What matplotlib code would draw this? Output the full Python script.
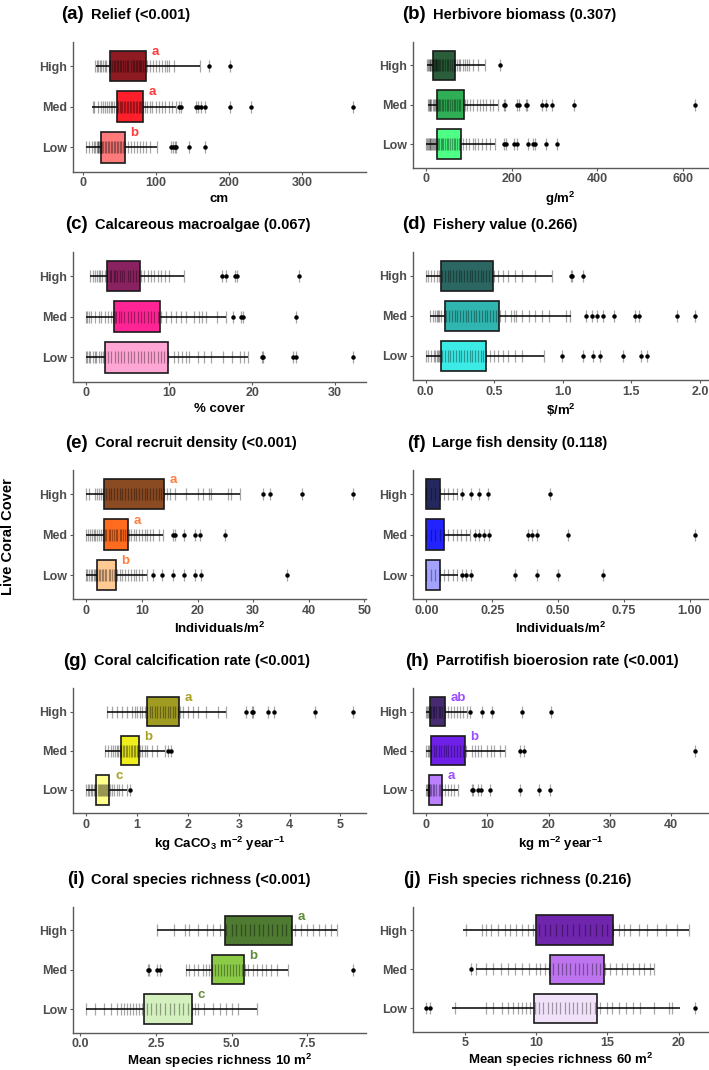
import matplotlib
matplotlib.use("Agg")
import matplotlib.pyplot as plt
from matplotlib.ticker import FormatStrFormatter

plt.rcParams['font.family'] = ['Liberation Sans', 'DejaVu Sans']
plt.rcParams['mathtext.fontset'] = 'custom'
plt.rcParams['mathtext.rm'] = 'Liberation Sans:bold'
plt.rcParams['mathtext.bf'] = 'Liberation Sans:bold'
plt.rcParams['mathtext.it'] = 'Liberation Sans:bold'
plt.rcParams['mathtext.default'] = 'bf'

W, H = 709, 1070
GROUPS = ['Low', 'Med', 'High']

# ---------------- data (order: Low, Med, High) ----------------
# (a) Relief
A_Q1 = [25, 46.4, 36.4]
A_Q3 = [57.3, 81.8, 86.4]
A_LO = [4.5, 12.7, 17.3]
A_HI = [101, 127, 160]
A_OUT = [[120, 123, 126, 127, 144.5, 167],
         [132, 134, 154, 158, 162, 167, 201, 229.5, 369],
         [172, 201]]
A_RUG = [[4.5, 8, 12, 15, 17, 19, 20, 21, 22, 23, 24, 25, 26, 28, 30, 32, 34, 36, 38, 40, 42, 44, 46, 48, 50, 52, 55, 58, 62, 66, 70, 74, 78, 82, 86, 92, 101],
         [13, 15, 20, 24, 27, 30, 33, 36, 38, 40, 43, 46, 48, 50, 52, 54, 56, 58, 60, 62, 64, 66, 68, 70, 72, 74, 76, 78, 80, 82, 85, 88, 92, 95, 100, 104, 108, 112, 118, 122, 127],
         [17, 19, 21, 23, 25, 28, 30, 32, 35, 37, 40, 42, 44, 46, 48, 50, 52, 55, 57, 60, 62, 65, 68, 70, 72, 74, 76, 78, 80, 82, 85, 88, 92, 96, 100, 104, 108, 112, 115, 118, 125, 160]]
A_LET = ['b', 'a', 'a']

# (b) Herbivore biomass
B_Q1 = [25, 25, 17]
B_Q3 = [82, 88, 66.4]
B_LO = [0.5, 4, 2]
B_HI = [160, 168, 137]
B_OUT = [[182, 186, 205, 211, 238, 250, 254, 280, 306],
         [181, 185, 212.5, 217, 232, 236, 270, 281, 294.5, 346, 627],
         [172]]
B_RUG = [[0.5, 2, 4, 6, 8, 10, 12, 14, 16, 18, 20, 22, 25, 28, 31, 34, 37, 40, 44, 48, 52, 56, 60, 64, 68, 72, 76, 80, 85, 92, 100, 110, 115, 122, 130, 140, 148, 160],
         [4, 6, 8, 10, 12, 15, 18, 20, 22, 25, 28, 30, 33, 36, 40, 44, 48, 52, 56, 60, 64, 68, 72, 76, 80, 85, 90, 96, 102, 110, 118, 125, 132, 140, 148, 155, 168],
         [2, 4, 6, 8, 10, 12, 14, 16, 18, 20, 22, 24, 26, 28, 30, 33, 36, 40, 44, 48, 52, 56, 60, 64, 68, 72, 76, 80, 85, 90, 95, 100, 110, 120, 137]]

# (c) Calcareous macroalgae
C_Q1 = [2.3, 3.3, 2.5]
C_Q3 = [9.85, 8.9, 6.5]
C_LO = [0, 0, 0.4]
C_HI = [19.5, 16.8, 11.8]
C_OUT = [[21.2, 21.3, 24.9, 25.3, 32.1],
         [17.7, 18.7, 18.9, 25.3],
         [16.4, 16.8, 17.9, 18.1, 25.6]]
C_RUG = [[0, 0.1, 0.3, 0.5, 0.8, 1.0, 1.2, 1.5, 1.8, 2.0, 2.3, 2.6, 3.0, 3.4, 3.8, 4.2, 4.5, 5.0, 5.4, 5.8, 6.2, 6.6, 7.0, 7.4, 7.8, 8.2, 8.6, 9.0, 9.4, 9.8, 10.6, 11.0, 11.5, 12.0, 12.4, 13.5, 14.2, 15.0, 16.5, 17.5, 18.5, 19.0, 19.5],
         [0, 0.1, 0.3, 0.6, 1.0, 1.5, 1.8, 2.2, 2.6, 3.0, 3.2, 3.4, 3.6, 3.9, 4.2, 4.6, 5.0, 5.4, 5.8, 6.2, 6.6, 7.0, 7.4, 7.8, 8.2, 8.6, 9.0, 9.6, 10.2, 10.8, 11.4, 12.0, 13.0, 13.6, 14.0, 14.4, 15.8, 16.8],
         [0.4, 0.8, 1.1, 1.3, 1.5, 1.7, 1.9, 2.2, 2.5, 2.8, 3.0, 3.3, 3.5, 3.7, 4.0, 4.3, 4.6, 5.0, 5.3, 5.6, 6.0, 6.3, 6.6, 7.0, 7.4, 7.8, 8.2, 8.6, 9.0, 9.5, 10.0, 11.8]]

# (d) Fishery value
D_Q1 = [0.115, 0.14, 0.115]
D_Q3 = [0.442, 0.533, 0.49]
D_LO = [0.005, 0.03, 0.005]
D_HI = [0.86, 1.057, 0.92]
D_OUT = [[0.995, 1.147, 1.216, 1.27, 1.44, 1.57, 1.614],
         [1.17, 1.21, 1.245, 1.295, 1.373, 1.528, 1.553, 1.83, 1.96],
         [1.056, 1.066, 1.147]]
D_RUG = [[0.005, 0.02, 0.04, 0.06, 0.07, 0.08, 0.09, 0.1, 0.11, 0.12, 0.14, 0.16, 0.18, 0.2, 0.22, 0.24, 0.26, 0.28, 0.3, 0.32, 0.34, 0.36, 0.38, 0.4, 0.42, 0.44, 0.47, 0.5, 0.53, 0.56, 0.6, 0.65, 0.7, 0.86],
         [0.03, 0.05, 0.07, 0.08, 0.09, 0.1, 0.11, 0.13, 0.15, 0.17, 0.19, 0.21, 0.23, 0.25, 0.27, 0.29, 0.31, 0.33, 0.35, 0.37, 0.39, 0.41, 0.43, 0.45, 0.47, 0.49, 0.51, 0.54, 0.58, 0.62, 0.64, 0.66, 0.7, 0.75, 0.8, 0.85, 0.9, 1.02, 1.05],
         [0.005, 0.02, 0.04, 0.06, 0.08, 0.1, 0.12, 0.14, 0.16, 0.18, 0.2, 0.22, 0.24, 0.26, 0.28, 0.3, 0.32, 0.34, 0.36, 0.38, 0.4, 0.42, 0.44, 0.46, 0.48, 0.5, 0.53, 0.56, 0.6, 0.65, 0.7, 0.8, 0.92]]

# (e) Coral recruit density
E_Q1 = [2.0, 3.1, 3.2]
E_Q3 = [5.3, 7.5, 13.9]
E_LO = [0, 0, 0]
E_HI = [10.95, 13.8, 27.6]
E_OUT = [[12.0, 13.6, 15.6, 17.6, 19.6, 20.7, 36.1],
         [15.6, 15.9, 17.6, 19.6, 20.4, 24.9],
         [31.8, 33.0, 38.8, 47.9]]
E_RUG = [[0, 0.2, 0.5, 0.8, 1.0, 1.3, 1.6, 1.8, 2.0, 2.2, 2.5, 2.8, 3.0, 3.3, 3.6, 4.0, 4.3, 4.6, 5.0, 5.3, 5.6, 6.0, 6.5, 7.0, 7.5, 8.0, 8.5, 9.0, 9.5, 10.0, 10.95],
         [0, 0.3, 0.6, 1.0, 1.3, 1.6, 2.0, 2.3, 2.6, 3.0, 3.3, 3.6, 4.0, 4.3, 4.6, 5.0, 5.3, 5.6, 6.0, 6.3, 6.6, 7.0, 7.3, 7.6, 8.0, 8.5, 9.0, 9.5, 10.0, 10.5, 11.0, 11.5, 12.0, 13.0, 13.8],
         [0, 0.5, 1.5, 2.0, 2.3, 2.6, 3.0, 3.5, 4.0, 4.5, 5.0, 5.5, 6.0, 6.5, 7.0, 7.5, 8.0, 8.5, 9.0, 9.5, 10.0, 10.5, 11.0, 11.5, 12.0, 12.5, 13.0, 13.5, 14.0, 14.5, 15.0, 16.0, 18.0, 20.0, 21.0, 22.0, 22.5, 25.5, 26.0, 27.6]]
E_LET = ['b', 'a', 'a']

# (f) Large fish density
F_Q1 = [0, 0, 0]
F_Q3 = [0.053, 0.068, 0.053]
F_LO = [0, 0, 0]
F_HI = [0.119, 0.167, 0.12]
F_OUT = [[0.135, 0.152, 0.17, 0.335, 0.42, 0.5, 0.67],
         [0.183, 0.2, 0.22, 0.237, 0.385, 0.4, 0.42, 0.537, 1.019],
         [0.135, 0.17, 0.2, 0.234, 0.468]]
F_RUG = [[0, 0.017, 0.033, 0.05, 0.067, 0.083, 0.1, 0.117],
         [0, 0.017, 0.033, 0.05, 0.067, 0.083, 0.1, 0.117, 0.133, 0.15, 0.167],
         [0, 0.017, 0.033, 0.05, 0.067, 0.083, 0.1, 0.117]]

# (g) Coral calcification rate
G_Q1 = [0.19, 0.68, 1.19]
G_Q3 = [0.456, 1.03, 1.82]
G_LO = [0, 0.37, 0.40]
G_HI = [0.8, 1.545, 2.75]
G_OUT = [[0.86],
         [1.61, 1.67],
         [3.14, 3.25, 3.28, 3.57, 3.7, 4.5, 5.24]]
G_RUG = [[0.0, 0.03, 0.06, 0.09, 0.12, 0.15, 0.18, 0.2, 0.22, 0.24, 0.26, 0.28, 0.3, 0.32, 0.34, 0.36, 0.38, 0.4, 0.43, 0.46, 0.5, 0.55, 0.6, 0.65, 0.7, 0.8],
         [0.37, 0.42, 0.48, 0.52, 0.56, 0.6, 0.63, 0.66, 0.69, 0.72, 0.75, 0.78, 0.81, 0.84, 0.87, 0.9, 0.93, 0.96, 0.99, 1.02, 1.05, 1.1, 1.15, 1.2, 1.3, 1.4, 1.545],
         [0.4, 0.5, 0.6, 0.7, 0.8, 0.9, 0.95, 1.0, 1.05, 1.1, 1.15, 1.2, 1.25, 1.3, 1.35, 1.4, 1.45, 1.5, 1.55, 1.6, 1.65, 1.7, 1.75, 1.8, 1.85, 1.9, 2.0, 2.1, 2.2, 2.35, 2.6, 2.75]]
G_LET = ['c', 'b', 'a']

# (h) Parrotfish bioerosion rate
H_Q1 = [0.38, 0.8, 0.55]
H_Q3 = [2.6, 6.27, 3.0]
H_LO = [0, 0, 0]
H_HI = [5.2, 12.9, 6.65]
H_OUT = [[7.4, 7.7, 8.4, 8.9, 10.4, 15.3, 18.4, 20.3],
         [15.4, 16.0, 43.9],
         [7.2, 9.1, 10.7, 15.6, 20.4]]
H_RUG = [[0, 0.1, 0.2, 0.3, 0.4, 0.5, 0.6, 0.8, 1.0, 1.3, 1.6, 2.0, 2.3, 2.6, 3.0, 3.5, 4.0, 4.5, 5.2],
         [0, 0.2, 0.5, 0.8, 1.2, 1.6, 2.0, 2.4, 2.8, 3.2, 3.6, 4.0, 4.5, 5.0, 5.5, 6.0, 6.5, 7.5, 8.0, 8.5, 9.0, 10.0, 10.5, 11.0, 12.0, 12.9],
         [0, 0.1, 0.2, 0.4, 0.6, 0.8, 1.0, 1.3, 1.6, 2.0, 2.3, 2.6, 3.0, 3.5, 4.0, 4.5, 5.0, 5.5, 6.0, 6.65]]
H_LET = ['a', 'b', 'ab']

# (i) Coral species richness
I_Q1 = [2.1, 4.35, 4.78]
I_Q3 = [3.69, 5.4, 7.01]
I_LO = [0.2, 3.5, 2.52]
I_HI = [5.84, 6.85, 8.49]
I_OUT = [[], [2.25, 2.27, 2.52, 2.65, 9.0], []]
I_RUG = [[0.2, 0.5, 0.8, 1.0, 1.2, 1.35, 1.45, 1.55, 1.65, 1.75, 1.85, 1.95, 2.05, 2.2, 2.35, 2.5, 2.65, 2.8, 2.95, 3.1, 3.25, 3.4, 3.55, 3.7, 3.8, 3.9, 4.1, 4.4, 4.6, 4.8, 5.0, 5.2, 5.84],
         [3.5, 3.6, 3.75, 3.9, 4.05, 4.15, 4.25, 4.35, 4.45, 4.55, 4.65, 4.75, 4.85, 4.95, 5.05, 5.15, 5.25, 5.35, 5.45, 5.55, 5.7, 5.85, 6.0, 6.15, 6.3, 6.5, 6.85],
         [2.52, 3.1, 3.45, 3.6, 3.9, 4.2, 4.4, 4.6, 4.8, 5.0, 5.15, 5.3, 5.45, 5.6, 5.75, 5.9, 6.05, 6.2, 6.35, 6.5, 6.65, 6.8, 6.95, 7.1, 7.3, 7.5, 7.7, 7.9, 8.1, 8.3, 8.49]]
I_LET = ['c', 'b', 'a']

# (j) Fish species richness
J_Q1 = [9.87, 10.98, 10.0]
J_Q3 = [14.26, 14.73, 15.36]
J_LO = [4.13, 5.8, 4.9]
J_HI = [20.07, 18.3, 20.75]
J_OUT = [[2.3, 2.54, 21.12], [5.45], []]
J_RUG = [[4.3, 6.5, 7.0, 7.6, 8.0, 8.4, 8.7, 9.0, 9.3, 9.6, 9.9, 10.2, 10.5, 10.8, 11.1, 11.4, 11.7, 12.0, 12.3, 12.6, 12.9, 13.2, 13.5, 13.8, 14.1, 14.5, 15.0, 15.3, 15.8, 16.3, 16.8, 17.3, 18.3, 19.3, 19.5],
         [5.8, 6.5, 7.0, 7.5, 8.0, 8.5, 9.0, 9.5, 10.0, 10.3, 10.6, 10.9, 11.2, 11.5, 11.8, 12.1, 12.4, 12.7, 13.0, 13.3, 13.6, 13.9, 14.2, 14.5, 14.8, 15.2, 15.6, 16.0, 16.4, 16.8, 17.2, 17.6, 18.0, 18.3],
         [5.1, 6.2, 6.5, 6.8, 7.3, 7.8, 8.2, 8.6, 9.0, 9.4, 9.8, 10.2, 10.6, 11.0, 11.4, 11.8, 12.2, 12.6, 13.0, 13.4, 13.8, 14.2, 14.6, 15.0, 15.4, 15.8, 16.2, 16.6, 17.2, 17.8, 18.5, 19.1, 19.9, 20.75]]

# ---------------- panel configuration ----------------
panels = [
    dict(tag='(a)', title='Relief (<0.001)', xlabel='cm',
         q1=A_Q1, q3=A_Q3, lo=A_LO, hi=A_HI, out=A_OUT, rug=A_RUG, let=A_LET, lcol='#FF3B3B',
         cols=['#FF7A7A', '#FF1F2A', '#8E1B22'], ticks=[0, 100, 200, 300], fmt='%d',
         box=(73, 41.7, 366, 171.7), tagx=61, lpad=3),
    dict(tag='(b)', title='Herbivore biomass (0.307)', xlabel='g/m$^2$',
         q1=B_Q1, q3=B_Q3, lo=B_LO, hi=B_HI, out=B_OUT, rug=B_RUG, let=None, lcol=None,
         cols=['#4DFF85', '#2FAE55', '#2A5E3A'], ticks=[0, 200, 400, 600], fmt='%d',
         box=(413, 41.7, 708, 167.7), tagx=402, lpad=3),
    dict(tag='(c)', title='Calcareous macroalgae (0.067)', xlabel='% cover',
         q1=C_Q1, q3=C_Q3, lo=C_LO, hi=C_HI, out=C_OUT, rug=C_RUG, let=None, lcol=None,
         cols=['#FFA6D5', '#FF2496', '#8A2160'], ticks=[0, 10, 20, 30], fmt='%d',
         box=(73, 251.7, 366, 381.7), tagx=65, lpad=3),
    dict(tag='(d)', title='Fishery value (0.266)', xlabel=r'\$/m$^2$',
         q1=D_Q1, q3=D_Q3, lo=D_LO, hi=D_HI, out=D_OUT, rug=D_RUG, let=None, lcol=None,
         cols=['#3DEBE6', '#30B5B0', '#2B6662'], ticks=[0, 0.5, 1.0, 1.5, 2.0], fmt='%.1f',
         box=(413, 251.7, 708, 380), tagx=402, lpad=3),
    dict(tag='(e)', title='Coral recruit density (<0.001)', xlabel='Individuals/m$^2$',
         q1=E_Q1, q3=E_Q3, lo=E_LO, hi=E_HI, out=E_OUT, rug=E_RUG, let=E_LET, lcol='#FF7F3F',
         cols=['#FFC994', '#FF6B1F', '#8A4A22'], ticks=[0, 10, 20, 30, 40, 50], fmt='%d',
         box=(73, 470, 366, 599.3), tagx=65, lpad=3),
    dict(tag='(f)', title='Large fish density (0.118)', xlabel='Individuals/m$^2$',
         q1=F_Q1, q3=F_Q3, lo=F_LO, hi=F_HI, out=F_OUT, rug=F_RUG, let=None, lcol=None,
         cols=['#A3A3FF', '#2323FF', '#24285E'], ticks=[0, 0.25, 0.5, 0.75, 1.0], fmt='%.2f',
         box=(413, 470, 708, 599.3), tagx=406.7, lpad=3),
    dict(tag='(g)', title='Coral calcification rate (<0.001)', xlabel='kg CaCO$_3$ m$^{-2}$ year$^{-1}$',
         q1=G_Q1, q3=G_Q3, lo=G_LO, hi=G_HI, out=G_OUT, rug=G_RUG, let=G_LET, lcol='#A8A020',
         cols=['#FFFF8C', '#EEEE1E', '#A09C22'], ticks=[0, 1, 2, 3, 4, 5], fmt='%d',
         box=(73, 688.3, 366, 813.3), tagx=63, lpad=3),
    dict(tag='(h)', title='Parrotifish bioerosion rate (<0.001)', xlabel='kg m$^{-2}$ year$^{-1}$',
         q1=H_Q1, q3=H_Q3, lo=H_LO, hi=H_HI, out=H_OUT, rug=H_RUG, let=H_LET, lcol='#9B4DFF',
         cols=['#BC80FF', '#6E1FE8', '#462A72'], ticks=[0, 10, 20, 30, 40], fmt='%d',
         box=(413, 688.3, 708, 813.3), tagx=405, lpad=3),
    dict(tag='(i)', title='Coral species richness (<0.001)', xlabel='Mean species richness 10 m$^2$',
         q1=I_Q1, q3=I_Q3, lo=I_LO, hi=I_HI, out=I_OUT, rug=I_RUG, let=I_LET, lcol='#5E8C38',
         cols=['#D4F0BF', '#8CCB48', '#4E7A31'], ticks=[0, 2.5, 5.0, 7.5], fmt='%.1f',
         box=(73, 906.7, 366, 1032.7), tagx=66.7, lpad=1.2),
    dict(tag='(j)', title='Fish species richness (0.216)', xlabel='Mean species richness 60 m$^2$',
         q1=J_Q1, q3=J_Q3, lo=J_LO, hi=J_HI, out=J_OUT, rug=J_RUG, let=None, lcol=None,
         cols=['#F1E2FA', '#BE74EE', '#7025AD'], ticks=[5, 10, 15, 20], fmt='%d',
         box=(413, 906.7, 708, 1031.7), tagx=403, lpad=1.2),
]

AXC = '#5A5A5A'
TXC = '#4D4D4D'

fig = plt.figure(figsize=(W / 100, H / 100), dpi=100)
renderer = fig.canvas.get_renderer()

for p in panels:
    x0, y0, x1, y1 = p['box']
    ax = fig.add_axes([x0 / W, 1 - y1 / H, (x1 - x0) / W, (y1 - y0) / H])
    allv = []
    for g in range(3):
        yv = g + 1
        allv += list(p['rug'][g]) + list(p['out'][g]) + [p['lo'][g], p['hi'][g]]
        ax.hlines(yv, p['lo'][g], p['hi'][g], color='black', lw=1.1, zorder=2)
        ax.barh(yv, p['q3'][g] - p['q1'][g], left=p['q1'][g], height=0.75,
                color=p['cols'][g], edgecolor='#1a1a1a', linewidth=1.2, zorder=3)
        vals = list(p['rug'][g]) + list(p['out'][g])
        ax.plot(vals, [yv] * len(vals), linestyle='none', marker='|', ms=8,
                mew=0.9, color='black', alpha=0.35, zorder=4)
        if p['out'][g]:
            ax.plot(p['out'][g], [yv] * len(p['out'][g]), linestyle='none', marker='o',
                    ms=2.2, color='black', zorder=5)
        if p['let']:
            ax.annotate(p['let'][g], xy=(p['q3'][g], yv + 0.35), xytext=(4, 0),
                        textcoords='offset points', ha='left', va='center',
                        color=p['lcol'], fontweight='bold', fontsize=9.5, zorder=6)
    lo_, hi_ = min(allv), max(allv)
    rng = hi_ - lo_
    ax.set_xlim(lo_ - 0.05 * rng, hi_ + 0.05 * rng)
    ax.set_ylim(0.4, 3.6)
    ax.set_yticks([1, 2, 3])
    ax.set_yticklabels(GROUPS)
    ax.set_xticks(p['ticks'])
    ax.xaxis.set_major_formatter(FormatStrFormatter(p['fmt']))
    for s in ['top', 'right']:
        ax.spines[s].set_visible(False)
    for s in ['left', 'bottom']:
        ax.spines[s].set_color(AXC)
        ax.spines[s].set_linewidth(1.0)
    ax.tick_params(axis='both', direction='out', length=2.5, width=0.8, color=AXC,
                   labelcolor=TXC, labelsize=9, pad=1.5)
    for lab in ax.get_xticklabels() + ax.get_yticklabels():
        lab.set_fontweight('bold')
    ax.set_xlabel(p['xlabel'], fontsize=9.5, fontweight='bold', color='black',
                  labelpad=p['lpad'])
    ax.set_facecolor('white')

    # title
    ty = 1 - (y0 - 27) / H
    t1 = fig.text(p['tagx'] / W, ty, p['tag'], fontsize=13.5, fontweight='bold',
                  ha='left', va='center', color='black')
    bb = t1.get_window_extent(renderer=renderer)
    fig.text((bb.x1 + 7) / W, ty, p['title'], fontsize=10.5, fontweight='bold',
             ha='left', va='center', color='black')

fig.text(8.5 / W, 1 - 536.7 / H, 'Live Coral Cover', rotation=90, fontsize=10.5,
         fontweight='bold', ha='center', va='center', color='black')

fig.savefig('out.png', dpi=100, facecolor='white')
